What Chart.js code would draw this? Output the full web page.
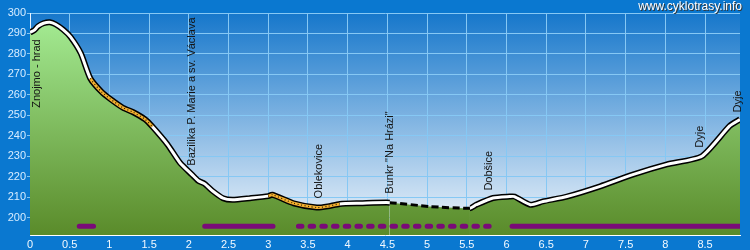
<!DOCTYPE html>
<html>
<head>
<meta charset="utf-8">
<script src="https://cdn.jsdelivr.net/npm/chart.js@4/dist/chart.umd.min.js"></script>
<style>
  html, body { margin: 0; padding: 0; background: #0a78d0; }
</style>
</head>
<body>
<canvas id="profile" width="750" height="250"></canvas>
<script>
// elevation profile (km, m a.s.l.)
const profileKm = [0, 0.05, 0.1, 0.17, 0.25, 0.32, 0.42, 0.51, 0.64, 0.76, 0.9, 1.01, 1.17, 1.3, 1.45, 1.54,
  1.73, 1.89, 2.04, 2.12, 2.2, 2.3, 2.43, 2.55, 2.77, 3.0, 3.05, 3.32, 3.61, 3.75, 3.9, 4.16, 4.53,
  5.04, 5.54, 5.62, 5.83, 6.04, 6.1, 6.3, 6.46, 6.76, 7.18, 7.59, 8.02, 8.46, 8.81, 8.94];
const profileElev = [290.5, 291.5, 293.5, 295, 295.5, 294.5, 291.8, 288.3, 280.3, 268, 261.5, 258, 253.7, 251.5, 248, 244.5,
  235.8, 226.7, 221, 218, 216.5, 213, 209.5, 208.7, 209.5, 210.5, 211.2, 207, 204.9, 205.5, 206.7, 207, 207.3,
  205.4, 204.6, 206.3, 209.6, 210.3, 210.3, 206.3, 207.9, 210.3, 215.3, 221, 226, 230, 244.8, 248];

// stretches of the route drawn differently
const orangeRanges = [[0.76, 1.54], [3.0, 3.9]];
const dashedRanges = [[4.53, 5.54]];

// surface bars along the bottom
const surfaceSolid = [[0.62, 0.8], [2.2, 3.06], [6.07, 8.94]];
const surfaceDotted = [[3.38, 5.79]];
const surfaceLevel = 195.8;

// points of interest
const poiNames = ['Znojmo - hrad', 'Bazilika P. Marie a sv. Václava', 'Oblekovice', 'Bunkr "Na Hrázi"', 'Dobšice', 'Dyje', 'Dyje'];
const poiKm = [0.09, 2.04, 3.64, 4.53, 5.78, 8.43, 8.91];
const poiElev = [293, 221, 205, 207.3, 208.8, 229.8, 247];

const xTicks = [0, 0.5, 1, 1.5, 2, 2.5, 3, 3.5, 4, 4.5, 5, 5.5, 6, 6.5, 7, 7.5, 8, 8.5];
const yTicks = [200, 210, 220, 230, 240, 250, 260, 270, 280, 290, 300];

const FONT = "'Liberation Sans', Arial, sans-serif";

const profile = profileKm.map((x, i) => ({ x, y: profileElev[i] }));

function rangeData(ranges) {
  const out = [];
  ranges.forEach(([a, b]) => {
    out.push({ x: a, y: surfaceLevel }, { x: b, y: surfaceLevel }, { x: b, y: null });
  });
  return out;
}

const inRange = (ranges, ctx) => {
  const m = (ctx.p0.parsed.x + ctx.p1.parsed.x) / 2;
  return ranges.some(([a, b]) => m >= a && m <= b);
};

function greenFill(context) {
  const area = context.chart.chartArea;
  if (!area) return '#7cc462';
  const g = context.chart.ctx.createLinearGradient(0, area.top, 0, area.bottom);
  g.addColorStop(0, '#a6ee96');
  g.addColorStop(1, '#5a8b2a');
  return g;
}

const background = {
  id: 'background',
  beforeDraw(chart) {
    const { ctx, chartArea: a } = chart;
    ctx.save();
    ctx.fillStyle = '#0a78d0';
    ctx.fillRect(0, 0, chart.width, chart.height);
    const g = ctx.createLinearGradient(0, a.top, 0, a.bottom);
    g.addColorStop(0, '#1677cb');
    g.addColorStop(1, '#f2f6fb');
    ctx.fillStyle = g;
    ctx.fillRect(a.left, a.top, a.right - a.left, a.bottom - a.top);
    ctx.restore();
  }
};

const poiLabels = {
  id: 'poiLabels',
  afterDatasetsDraw(chart) {
    const { ctx, scales } = chart;
    ctx.save();
    ctx.font = '11px ' + FONT;
    ctx.fillStyle = '#141414';
    ctx.textBaseline = 'middle';
    poiNames.forEach((name, i) => {
      const px = scales.x.getPixelForValue(poiKm[i]);
      const py = scales.y.getPixelForValue(poiElev[i]);
      const w = ctx.measureText(name).width;
      ctx.save();
      if (py - 9 - w > 0) {
        ctx.translate(px, py - 9);
        ctx.rotate(-Math.PI / 2);
        ctx.textAlign = 'left';
      } else {
        ctx.translate(px, py + 12);
        ctx.rotate(-Math.PI / 2);
        ctx.textAlign = 'right';
      }
      ctx.fillText(name, 0, 0);
      ctx.restore();
    });
    ctx.restore();
  }
};

const siteName = {
  id: 'siteName',
  afterDraw(chart) {
    const ctx = chart.ctx;
    ctx.save();
    ctx.font = '12px ' + FONT;
    ctx.textAlign = 'right';
    ctx.textBaseline = 'middle';
    ctx.fillStyle = '#333';
    ctx.fillText('www.cyklotrasy.info', 743, 8);
    ctx.fillStyle = '#ffffff';
    ctx.fillText('www.cyklotrasy.info', 742, 7);
    ctx.restore();
  }
};

const config = {
  type: 'line',
  data: {
    datasets: [
      {
        // dotted centre of the orange stretches
        data: profile,
        borderColor: 'rgba(0,0,0,0)',
        borderWidth: 1.2,
        borderDash: [1, 2.5],
        pointRadius: 0,
        tension: 0.2,
        fill: false,
        segment: { borderColor: ctx => inRange(orangeRanges, ctx) ? '#2a1e00' : undefined }
      },
      {
        // inner line
        data: profile,
        borderColor: '#ffffff',
        borderWidth: 3,
        pointRadius: 0,
        tension: 0.2,
        fill: false,
        segment: {
          borderColor: ctx => inRange(dashedRanges, ctx) ? 'rgba(0,0,0,0)'
            : inRange(orangeRanges, ctx) ? '#f4b02f' : undefined
        }
      },
      {
        data: rangeData(surfaceSolid),
        borderColor: '#7a0a78',
        borderWidth: 5,
        borderCapStyle: 'round',
        pointRadius: 0,
        fill: false,
        spanGaps: false
      },
      {
        data: rangeData(surfaceDotted),
        borderColor: '#7a0a78',
        borderWidth: 5,
        borderCapStyle: 'round',
        borderDash: [3.5, 8.2],
        pointRadius: 0,
        fill: false,
        spanGaps: false
      },
      {
        // black outline + green fill
        data: profile,
        borderColor: '#000000',
        borderWidth: 6,
        pointRadius: 0,
        tension: 0.2,
        fill: 'start',
        backgroundColor: greenFill,
        segment: {
          borderWidth: ctx => inRange(dashedRanges, ctx) ? 3 : undefined,
          borderDash: ctx => inRange(dashedRanges, ctx) ? [7, 3.5] : undefined
        }
      }
    ]
  },
  options: {
    responsive: false,
    animation: false,
    layout: { padding: { top: 13, right: 10, left: 0, bottom: 0 } },
    plugins: { legend: { display: false }, tooltip: { enabled: false } },
    scales: {
      x: {
        type: 'linear',
        min: 0,
        max: 8.94,
        afterBuildTicks: s => { s.ticks = xTicks.map(v => ({ value: v })); },
        afterFit: s => { s.height = 15; },
        grid: { color: '#86c8f4', drawTicks: false },
        border: { color: '#ffffff' },
        ticks: { color: '#f2f9ff', font: { family: FONT, size: 11 }, padding: 3, maxRotation: 0, autoSkip: false,
          callback: v => String(v) }
      },
      y: {
        min: 191.5,
        max: 300,
        afterBuildTicks: s => { s.ticks = yTicks.map(v => ({ value: v })); },
        afterFit: s => { s.width = 30; },
        grid: { color: '#86c8f4', tickLength: 3 },
        border: { color: '#e6f3ff' },
        ticks: { color: '#d6ecff', font: { family: FONT, size: 11 }, padding: 1, callback: v => String(v) }
      }
    }
  },
  plugins: [background, poiLabels, siteName]
};

const chart = new Chart(document.getElementById('profile').getContext('2d'), config);
</script>
</body>
</html>
